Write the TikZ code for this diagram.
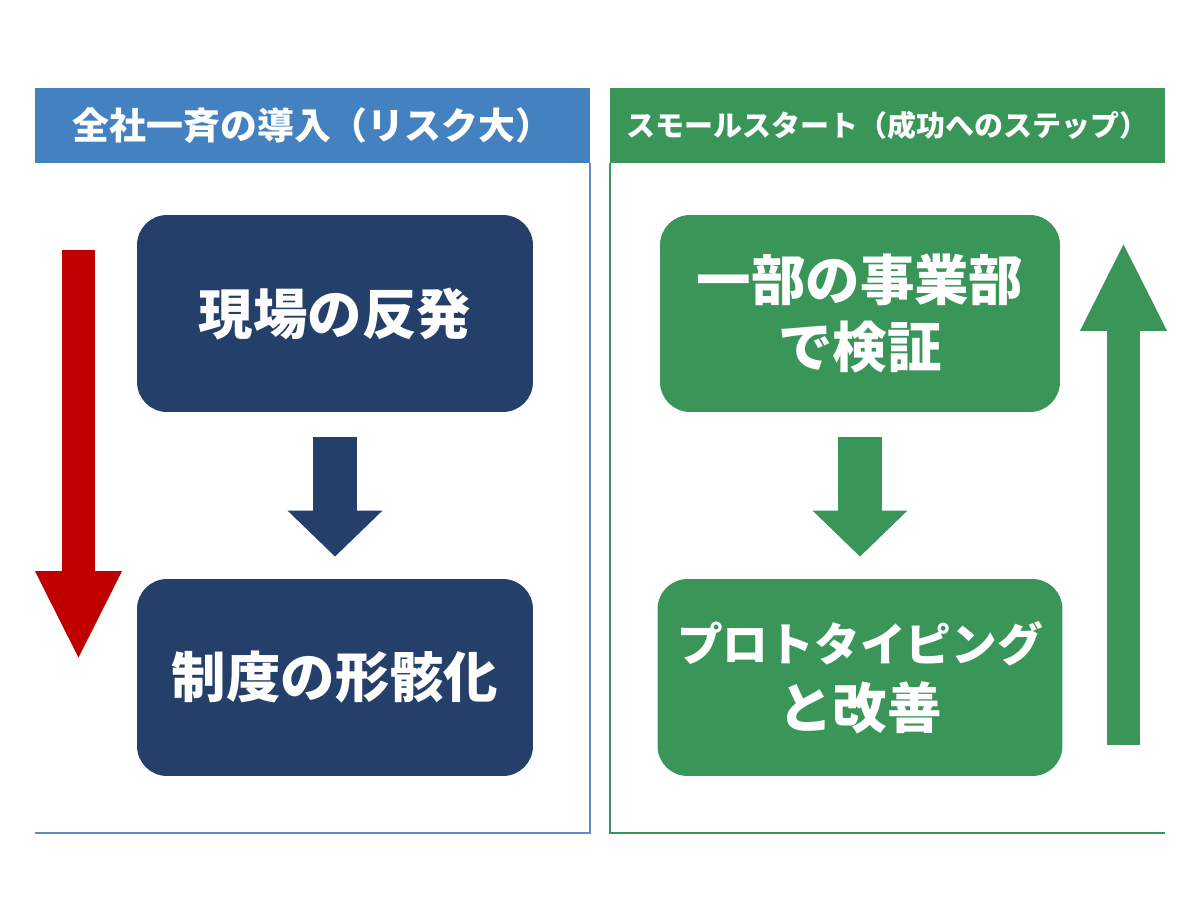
\documentclass[tikz,border=0pt]{standalone}
\usepackage{fontspec}
\newfontfamily\cjk{Noto Sans CJK JP}
\usetikzlibrary{positioning,arrows.meta}
\definecolor{hdrblue}{HTML}{4481C0}
\definecolor{lineblue}{HTML}{5B8CC2}
\definecolor{navy}{HTML}{243F6A}
\definecolor{leaf}{HTML}{3A9558}
\definecolor{alarm}{HTML}{C00000}

\begin{document}
\begin{tikzpicture}[x=0.02cm, y=-0.02cm, every node/.style={text=white,align=center,inner sep=0pt},
    box/.style={minimum width=7.92cm,minimum height=3.94cm,rounded corners=0.6cm,font=\cjk\bfseries\fontsize{31}{38}\selectfont},
    hdr/.style={minimum width=11.1cm,minimum height=1.5cm},
    blockarrow/.style={draw=#1,line width=0.88cm,-{Triangle[length=0.92cm,width=1.84cm]},shorten <=0.5cm,shorten >=0.44cm},
    bigarrow/.style={draw=#1,line width=0.66cm,-{Triangle[length=1.78cm,width=1.6cm]}}]
    \useasboundingbox (0,0) rectangle (1200,896);
    % headers
    \node (lhead) [hdr, fill=hdrblue, font=\cjk\bfseries\fontsize{21}{24}\selectfont] at (312.5,125.5) {全社一斉の導入（リスク大）};
    \node (rhead) [hdr, fill=leaf, font=\cjk\bfseries\fontsize{16.5}{20}\selectfont] at (887.5,125.5) {スモールスタート（成功へのステップ）};
    \coordinate (lfoot) at (35,833);
    \coordinate (rfoot) at (1165,833);
    \draw[lineblue, line width=1.1pt] (lhead.south east) |- (lfoot);
    \draw[leaf, line width=1.1pt] (rhead.south west) |- (rfoot);
    % boxes
    \node (rise) [box, fill=navy] at (335,313.5) {現場の反発};
    \node (decay) [box, fill=navy] at (335,677.5) {制度の形骸化};
    \node (pilot) [box, fill=leaf, minimum width=8cm] at (860,313.5) {一部の事業部\\で検証};
    \node (proto) [box, fill=leaf, minimum width=8.1cm] at (860,677.5) {{\fontsize{26}{36}\selectfont プロトタイピング}\\と改善};
    \draw[blockarrow=navy] (rise) -- (decay);
    \draw[blockarrow=leaf] (pilot) -- (proto);
    % side arrows
    \coordinate (dropstart) at (78.5,250);
    \coordinate (dropend) at (78.5,660);
    \coordinate (climbstart) at (1123.5,745);
    \coordinate (climbend) at (1123.5,242);
    \draw[bigarrow=alarm] (dropstart) -- (dropend);
    \draw[bigarrow=leaf] (climbstart) -- (climbend);
  \end{tikzpicture}
\end{document}
